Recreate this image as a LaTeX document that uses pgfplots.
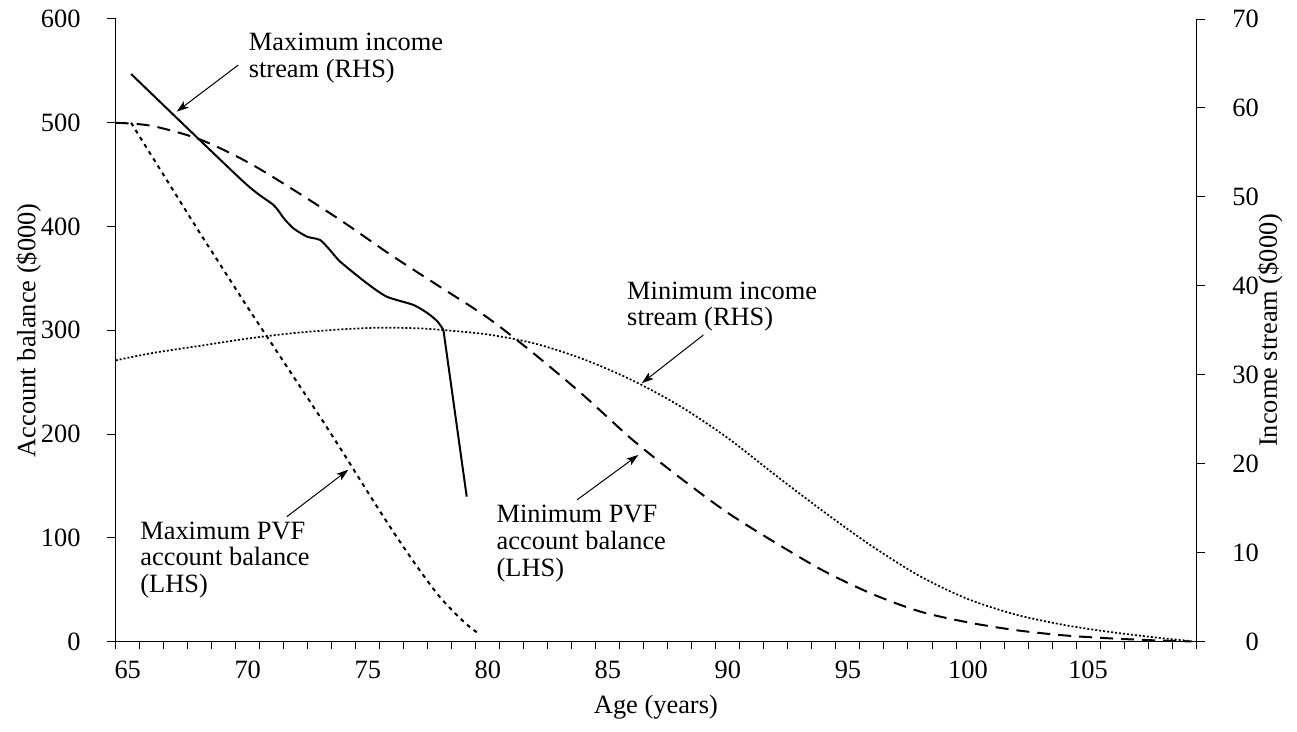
\documentclass[border=0pt]{standalone}
\usepackage{fontspec}
\setmainfont{Liberation Serif}
\usepackage{pgfplots}
\pgfplotsset{compat=1.18}
\usetikzlibrary{arrows.meta}
\begin{document}
\fontsize{13.2pt}{13.4pt}\selectfont
\begin{tikzpicture}
\path[use as bounding box] (-57.85pt,-45.15pt) rectangle (590.65pt,320.8pt);
\pgfplotsset{
  base/.style={
    at={(0,0)}, anchor=south west,
    scale only axis, width=540.2pt, height=311.3pt,
    xmin=64.5, xmax=109.5,
    tick align=outside,
    major tick length=4.5pt, minor tick length=3.9pt,
    axis line style={line width=0.6pt},
    every tick/.style={black, line width=0.5pt},
    /pgf/number format/assume math mode=true,
    clip=false,
  }
}
\begin{axis}[base,
  ymin=0, ymax=600,
  axis x line*=bottom, axis y line*=left,
  xtick={65,70,...,105},
  minor xtick={64.5,65.5,...,109.5},
  major x tick style={draw=none},
  ytick={0,100,...,600},
  xticklabel style={anchor=north, inner sep=0pt, yshift=-5pt},
  yticklabel style={anchor=east, inner sep=0pt, xshift=-12.85pt},
  xlabel={Age (years)},
  ylabel={Account balance (\$000)},
  every axis x label/.style={at={(axis description cs:0.5,-0.1049)}, anchor=center},
  every axis y label/.style={at={(axis description cs:-0.0807,0.5)}, anchor=center, rotate=90},
]
% Minimum PVF account balance (LHS)
\addplot[black, line width=1pt, dash pattern=on 6.5pt off 4pt, smooth, tension=0.5] coordinates {
(64.5,500) (66,497) (68,484) (70,462) (72,434) (74,404) (76,372) (78,342) (80,312)
(82,276) (84,237) (86,195) (88,158) (90,124) (92,95) (94,68) (96,46) (98,29) (100,18.5)
(102,11) (104,6) (106,3) (108,1) (109.3,0.2)
};
% Maximum PVF account balance (LHS)
\addplot[black, line width=1pt, dash pattern=on 2pt off 2.2pt, smooth, tension=0.5] coordinates {
(65.14,500) (66,468) (67,431) (68,394) (69,358) (70,322) (71,287) (72,252) (73,217)
(74,181) (75,144) (76,108) (77,74) (78,43) (79,19) (79.6,8)
};
\node[anchor=west, align=left, inner sep=0pt] at (axis cs:70.03,562) {Maximum income\\stream (RHS)};
\node[anchor=west, align=left, inner sep=0pt] at (axis cs:65.51,78.7) {Maximum PVF\\account balance\\(LHS)};
\node[anchor=west, align=left, inner sep=0pt] at (axis cs:85.79,322.8) {Minimum income\\stream (RHS)};
\node[anchor=west, align=left, inner sep=0pt] at (axis cs:80.35,94.6) {Minimum PVF\\account balance\\(LHS)};
\draw[line width=0.5pt, -{Stealth[length=6pt,width=4pt,inset=1.5pt]}] (axis cs:69.61,555.7) -- (axis cs:67.04,510.7);
\draw[line width=0.5pt, -{Stealth[length=6pt,width=4pt,inset=1.5pt]}] (axis cs:71.63,120.4) -- (axis cs:74.19,165.6);
\draw[line width=0.5pt, -{Stealth[length=6pt,width=4pt,inset=1.5pt]}] (axis cs:88.98,295.5) -- (axis cs:86.41,249.0);
\draw[line width=0.5pt, -{Stealth[length=6pt,width=4pt,inset=1.5pt]}] (axis cs:83.71,136.5) -- (axis cs:86.27,179.9);
\end{axis}
\begin{axis}[base,
  ymin=0, ymax=70,
  axis x line=none, axis y line*=right,
  ytick={0,10,...,70},
  yticklabel style={anchor=east, inner sep=0pt, xshift=27pt},
  ylabel={Income stream (\$000)},
  every axis y label/.style={at={(axis description cs:1.0684,0.5)}, anchor=center, rotate=90},
]
% Maximum income stream (RHS)
\addplot[black, line width=1pt, smooth, tension=0.4] coordinates {
(65.14,63.82) (69.82,51.71) (71.07,49.09) (71.5,47.6) (71.9,46.47) (72.46,45.54)
(73.01,45.16) (73.4,44.1) (73.85,42.72) (74.96,40.29) (75.79,38.78) (76.9,37.85)
(77.5,36.9) (77.9,36.0) (78.15,35.04)
};
\addplot[black, line width=1pt] coordinates {(78.15,35.04) (79.12,16.30)};
% Minimum income stream (RHS)
\addplot[black, line width=0.85pt, dash pattern=on 1pt off 1pt, smooth, tension=0.5] coordinates {
(64.5,31.62) (66,32.43) (68,33.25) (70,34.07) (72,34.71) (74,35.12) (75.5,35.29) (77,35.23)
(78,35.06) (80,34.53) (82,33.48) (84,31.73) (86,29.4) (88,26.48) (90,22.87) (92,18.67)
(94,14.58) (96,10.73) (98,7.35) (100,4.78) (102,3.03) (104,1.87) (106,1.05) (108,0.41) (109.3,0.06)
};
\end{axis}
\end{tikzpicture}
\end{document}
